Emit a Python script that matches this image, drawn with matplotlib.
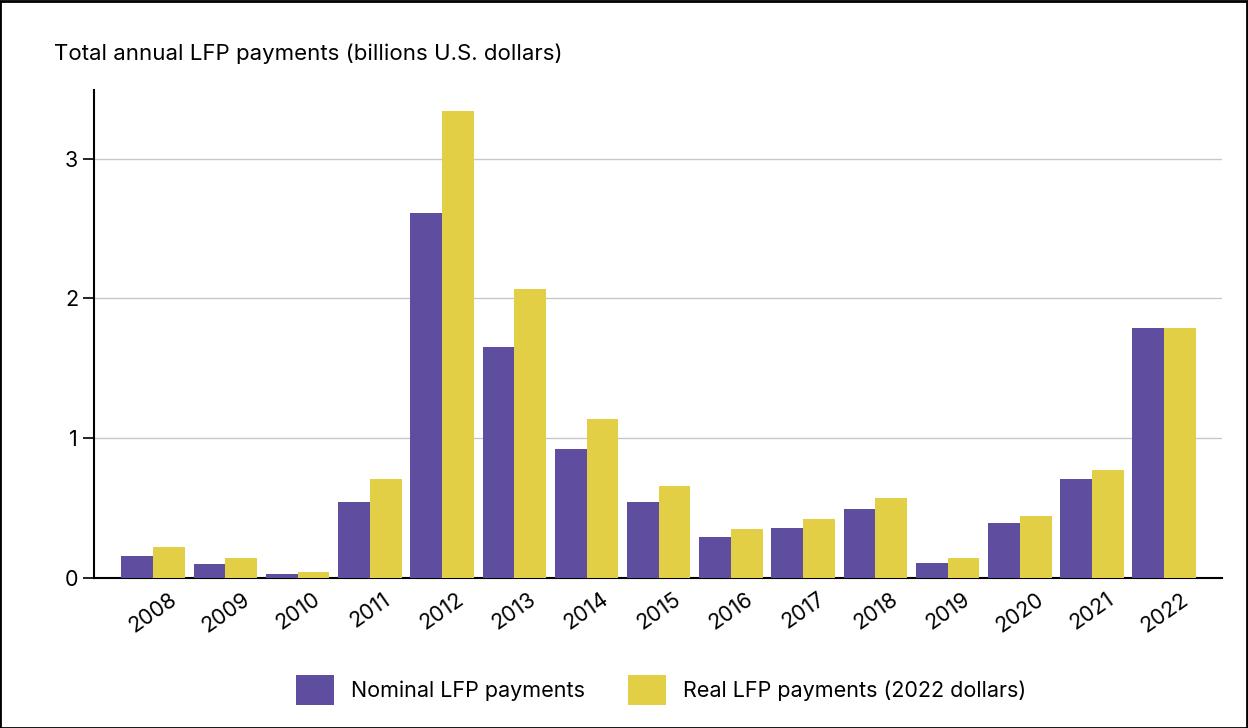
import matplotlib
matplotlib.use("Agg")
import matplotlib.pyplot as plt
import numpy as np

plt.rcParams["font.family"] = ["Inter", "DejaVu Sans"]

years = [str(y) for y in range(2008, 2023)]
nominal = [0.16, 0.10, 0.03, 0.54, 2.61, 1.65, 0.92, 0.54, 0.29, 0.36, 0.49, 0.11, 0.39, 0.71, 1.79]
real = [0.22, 0.14, 0.04, 0.71, 3.34, 2.07, 1.14, 0.66, 0.35, 0.42, 0.57, 0.14, 0.44, 0.77, 1.79]

PURPLE = "#5f4ea0"
YELLOW = "#e2cf45"

fig = plt.figure(figsize=(12.48, 7.28), dpi=100)
ax = fig.add_axes([94 / 1248, 1 - 578 / 728, (1222 - 94) / 1248, (578 - 90) / 728])

x = np.arange(len(years))
w = 0.44
ax.bar(x - w / 2, nominal, w, color=PURPLE, label="Nominal LFP payments", zorder=3)
ax.bar(x + w / 2, real, w, color=YELLOW, label="Real LFP payments (2022 dollars)", zorder=3)

ax.set_xlim(-0.82, len(years) - 0.2)
ax.set_ylim(0, 3.49)
ax.set_yticks([0, 1, 2, 3])
ax.set_yticklabels(["0", "1", "2", "3"], fontsize=15.5)
ax.set_xticks(x)
ax.set_xticklabels(years, rotation=35, fontsize=15.5, ha="center")
ax.tick_params(axis="y", length=8, width=1.2)
ax.tick_params(axis="x", length=0, pad=8)
ax.grid(axis="y", color="#c8c8c8", linewidth=1, zorder=0)
for s in ["top", "right"]:
    ax.spines[s].set_visible(False)
ax.spines["left"].set_linewidth(1.5)
ax.spines["bottom"].set_linewidth(1.5)

fig.text(54 / 1248, 1 - 54 / 728, "Total annual LFP payments (billions U.S. dollars)",
         fontsize=16, va="center", ha="left")

fig.legend(loc="center", bbox_to_anchor=(661 / 1248, 1 - 690 / 728), ncols=2,
           frameon=False, fontsize=15.5, handlelength=1.75, handleheight=1.75,
           columnspacing=2.0, handletextpad=0.8)

fig.patches.append(plt.Rectangle((0.0, 0.0), 0.999, 0.998, transform=fig.transFigure,
                                 fill=False, edgecolor="black", linewidth=2))

fig.savefig("out.png", dpi=100)
